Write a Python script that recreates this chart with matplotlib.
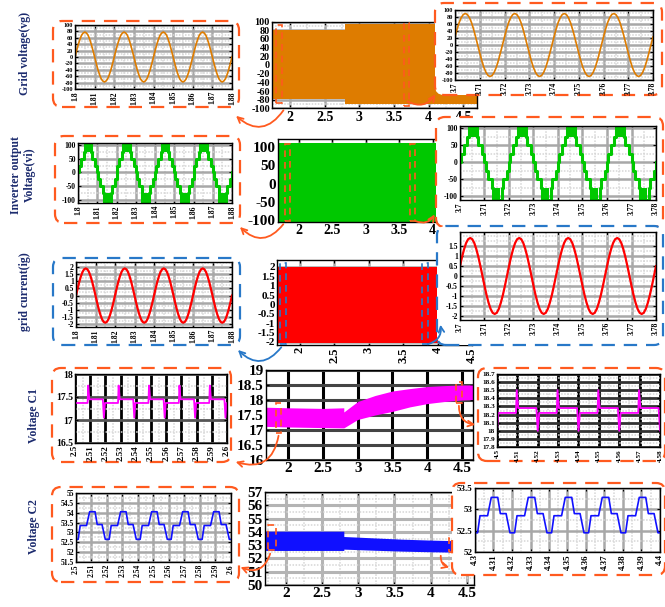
import numpy as np
import matplotlib.pyplot as plt
from matplotlib.patches import FancyBboxPatch, FancyArrowPatch, Rectangle
from matplotlib.transforms import IdentityTransform
from matplotlib.ticker import AutoMinorLocator

W, H = 665, 607
plt.rcParams['font.family'] = ['Liberation Serif', 'DejaVu Serif']
plt.rcParams['font.weight'] = 'bold'

PERIOD = 0.02

# ---------------- data ----------------
# one 50 Hz period, one sample every 15 degrees
vg_left_cycle = [0, 20, 39, 55, 68, 75, 78, 75, 68, 55, 39, 20,
                 0, -20, -39, -55, -68, -75, -78, -75, -68, -55, -39, -20]
vg_right_cycle = [23, 45, 64, 78, 87, 90, 87, 78, 64, 45, 23, 0,
                  -23, -45, -64, -78, -87, -90, -87, -78, -64, -45, -23, 0]
ig_left_cycle = [0, 0.49, 0.95, 1.34, 1.65, 1.84, 1.9, 1.84, 1.65, 1.34, 0.95, 0.49,
                 0, -0.49, -0.95, -1.34, -1.65, -1.84, -1.9, -1.84, -1.65, -1.34, -0.95, -0.49]
ig_right_cycle = [0.49, 0.95, 1.34, 1.65, 1.84, 1.9, 1.84, 1.65, 1.34, 0.95, 0.49, 0,
                  -0.49, -0.95, -1.34, -1.65, -1.84, -1.9, -1.84, -1.65, -1.34, -0.95, -0.49, 0]

# inverter output: 40 slots of 0.5 ms per period, 110 = PWM block between 75 and 110
vi_cycle = [0, 25, 25, 50, 50, 50, 75, 110, 110, 110, 110, 110, 110, 110, 75, 50, 50, 50, 25, 25,
            0, -25, -25, -50, -50, -50, -75, -110, -110, -110, -110, -110, -110, -110, -75, -50, -50, -50, -25, -25]
vi_block_low = 75

# capacitor C1 ripple, one period (offsets in s)
c1_offsets = [0, 0.0007, 0.0093, 0.0097, 0.0104, 0.0193, 0.0200]
c1_left_levels = [17.05, 17.37, 17.37, 17.75, 17.45, 17.45, 17.05]
c1_right_levels = [18.0, 18.22, 18.22, 18.5, 18.28, 18.28, 18.0]

# capacitor C2 ripple, one period
c2_offsets = [0, 0.0014, 0.0027, 0.0068, 0.0088, 0.0123, 0.0137, 0.0168, 0.0189, 0.0200]
c2_left_levels = [52.65, 52.65, 53.35, 53.35, 54.05, 54.05, 53.4, 53.4, 52.65, 52.65]
c2_right_levels = [52.45, 52.45, 52.85, 52.85, 53.28, 53.28, 52.9, 52.9, 52.45, 52.45]

# envelopes of the full-length runs
vg_band_t = [1.70, 2.80, 2.80, 4.70]
vg_band_hi = [80, 80, 94, 94]
vg_band_lo = [-78, -78, -90, -90]
vi_band_t = [1.65, 5.10]
vi_band_hi = [110, 110]
vi_band_lo = [-112, -112]
ig_band_t = [1.65, 4.55]
ig_band_hi = [2.0, 2.0]
ig_band_lo = [-2.05, -2.05]
c1_band_t = [1.68, 2.0, 2.5, 2.8, 2.8, 3.0, 3.25, 3.5, 3.75, 4.0, 4.25, 4.5, 4.7]
c1_band_hi = [17.76, 17.74, 17.72, 17.74, 17.6, 17.95, 18.15, 18.3, 18.38, 18.45, 18.48, 18.5, 18.5]
c1_band_lo = [17.12, 17.1, 17.08, 17.07, 17.07, 17.35, 17.5, 17.62, 17.77, 17.88, 17.95, 18.0, 18.02]
c2_band_t = [1.71, 2.8, 2.8, 3.2, 3.6, 4.0, 4.6]
c2_band_hi = [54.05, 54.05, 53.65, 53.55, 53.45, 53.38, 53.3]
c2_band_lo = [52.6, 52.6, 52.7, 52.62, 52.55, 52.5, 52.45]

ORANGE = '#de7c00'
GREEN = '#00c800'
RED = '#ff0000'
MAGENTA = '#ff00ff'
BLUE = '#1010ff'
BOX_OR = '#ff5a1f'
BOX_BL = '#2878c8'
NAVY = '#1c2b6e'


def sampled(start, cycle, n):
    dt = PERIOD / len(cycle)
    t = start + np.arange(n * len(cycle) + 1) * dt
    v = np.append(np.tile(cycle, n), cycle[0])
    return t, v


def profile(start, offsets, levels, n):
    t = np.concatenate([start + k * PERIOD + np.array(offsets) for k in range(n)])
    v = np.tile(levels, n)
    return t, v


fig = plt.figure(figsize=(W / 100, H / 100), dpi=100)


def px_axes(l, t, r, b, z=0):
    ax = fig.add_axes([l / W, 1 - b / H, (r - l) / W, (b - t) / H])
    ax.set_zorder(z)
    return ax


def style(ax, xlim, ylim, xticks, yticks, fs, xfs=None, rot=0, gcol='#a8a8a8', glw=1.8,
          ycol=None, minor=True):
    ax.set_xlim(xlim)
    ax.set_ylim(ylim)
    ax.set_xticks(xticks)
    ax.set_yticks(yticks)
    ax.set_xticklabels([f'{v:g}' for v in xticks], rotation=rot, fontsize=xfs or fs)
    ax.set_yticklabels([f'{v:g}' for v in yticks], fontsize=fs)
    ax.tick_params(direction='in', length=2, width=0.8, pad=1.5, top=True, right=True)
    if minor:
        ax.xaxis.set_minor_locator(AutoMinorLocator(2))
        ax.yaxis.set_minor_locator(AutoMinorLocator(2))
        ax.tick_params(which='minor', length=0)
        ax.grid(True, which='minor', color='#d6d6d6', lw=1.1, ls=(0, (1, 1)))
    ax.grid(True, which='major', axis='x', color=gcol, lw=glw)
    ax.grid(True, which='major', axis='y', color=ycol or gcol, lw=glw)
    ax.set_axisbelow(True)
    for s in ax.spines.values():
        s.set_linewidth(1.0)


def box(l, t, r, b, color=BOX_OR, face='none', z=1):
    p = FancyBboxPatch((l, H - b), r - l, b - t, boxstyle='round,pad=0,rounding_size=9',
                       transform=IdentityTransform(), ec=color, fc=face, lw=1.6,
                       ls=(0, (6, 4)), zorder=z)
    fig.add_artist(p)


def arrow(a, b, rad, color=BOX_OR):
    p = FancyArrowPatch((a[0], H - a[1]), (b[0], H - b[1]), connectionstyle=f'arc3,rad={rad}',
                        arrowstyle='->', mutation_scale=10, color=color, lw=1.3,
                        transform=IdentityTransform(), zorder=3)
    fig.add_artist(p)


def zoom_mark(ax, x0, y0, w, h, color=BOX_OR):
    ax.add_patch(Rectangle((x0, y0), w, h, fill=False, ec=color, lw=1.2, ls=(0, (4, 3)), zorder=3))


small_fs = 5.5
t_left = [1.8, 1.81, 1.82, 1.83, 1.84, 1.85, 1.86, 1.87, 1.88]
t_right = [3.7, 3.71, 3.72, 3.73, 3.74, 3.75, 3.76, 3.77, 3.78]
mid_x = [2, 2.5, 3, 3.5, 4, 4.5]
vg_ticks = [-100, -80, -60, -40, -20, 0, 20, 40, 60, 80, 100]

# ---------------- row 1 : grid voltage ----------------
ax = px_axes(272, 21.5, 477, 108.5)
ax.fill_between(vg_band_t, vg_band_lo, vg_band_hi, color=ORANGE, lw=0)
style(ax, (1.74, 4.7), (-100, 100), mid_x, vg_ticks, 7.3, xfs=10)
zoom_mark(ax, 1.80, -88, 0.08, 180)
zoom_mark(ax, 3.64, -95, 0.08, 192)

box(53, 21, 239, 107)
ax = px_axes(75, 25, 232, 89, z=2)
t, v = sampled(1.8, vg_left_cycle, 4)
ax.plot(t, v, color=ORANGE, lw=1.2)
style(ax, (1.8, 1.88), (-100, 100), t_left, vg_ticks, 4.5, xfs=small_fs, rot=90)

box(435, 3, 662, 95, face='white')
ax = px_axes(455, 10, 653, 80, z=2)
t, v = sampled(3.7, vg_right_cycle, 4)
ax.plot(t, v, color=ORANGE, lw=1.2)
style(ax, (3.7, 3.78), (-100, 100), t_right, vg_ticks, 4.5, xfs=small_fs, rot=90)

arrow((285, 108), (234, 114), -0.6)
arrow((405, 100), (437, 92), 0.5)

# ---------------- row 2 : inverter output ----------------
ax = px_axes(278, 139, 505, 222)
ax.fill_between(vi_band_t, vi_band_lo, vi_band_hi, color=GREEN, lw=0)
style(ax, (1.69, 5.08), (-105, 122), mid_x, [-100, -50, 0, 50, 100], 11, xfs=10, minor=False)
zoom_mark(ax, 1.79, -103, 0.08, 210)
zoom_mark(ax, 3.66, -103, 0.08, 210)

box(55, 136, 240, 223)
ax = px_axes(78, 143, 232, 203, z=2)
t, v = sampled(1.8, vi_cycle, 4)
vv = np.array(v)
ax.step(t, v, where='post', color=GREEN, lw=2.2)
ax.fill_between(t, vi_block_low, vv, where=vv >= 110, step='post', color=GREEN, lw=0)
ax.fill_between(t, -vi_block_low, vv, where=vv <= -110, step='post', color=GREEN, lw=0)
style(ax, (1.8, 1.88), (-111, 107), t_left, [-100, -50, 0, 50, 100], small_fs, rot=90)

box(436, 117, 663, 227, face='white')
ax = px_axes(460, 126, 656, 200, z=2)
t, v = sampled(3.7, vi_cycle, 4)
vv = np.array(v)
ax.step(t, v, where='post', color=GREEN, lw=2.2)
ax.fill_between(t, vi_block_low, vv, where=vv >= 110, step='post', color=GREEN, lw=0)
ax.fill_between(t, -vi_block_low, vv, where=vv <= -110, step='post', color=GREEN, lw=0)
style(ax, (3.7, 3.78), (-111, 107), t_right, [-100, -50, 0, 50, 100], small_fs, rot=90)

arrow((285, 222), (238, 225), -0.6)
arrow((413, 220), (436, 212), 0.5)

# ---------------- row 3 : grid current ----------------
ax = px_axes(277, 260, 472, 345)
ax.fill_between(ig_band_t, ig_band_lo, ig_band_hi, color=RED, lw=0)
style(ax, (1.67, 4.5), (-2.16, 2.37), mid_x, [-2, -1.5, -1, -0.5, 0, 0.5, 1, 1.5, 2], 8,
      xfs=9, rot=90, minor=False)
zoom_mark(ax, 1.72, -2.1, 0.08, 4.3, BOX_BL)
zoom_mark(ax, 3.78, -2.1, 0.08, 4.3, BOX_BL)

box(53, 258, 240, 345, color=BOX_BL)
ax = px_axes(76, 262, 232, 327, z=2)
t, v = sampled(1.8, ig_left_cycle, 4)
ax.plot(t, v, color=RED, lw=1.6)
style(ax, (1.8, 1.88), (-2.2, 2.35), t_left, [-2, -1.5, -1, -0.5, 0, 0.5, 1, 1.5, 2],
      small_fs, rot=90)

box(437, 226, 663, 345, color=BOX_BL, face='white')
ax = px_axes(460, 232, 656, 320, z=2)
t, v = sampled(3.7, ig_right_cycle, 4)
ax.plot(t, v, color=RED, lw=1.6)
style(ax, (3.7, 3.78), (-2.2, 2.2), t_right, [-2, -1.5, -1, -0.5, 0, 0.5, 1, 1.5],
      small_fs, rot=90)

arrow((283, 345), (236, 348), -0.6, BOX_BL)
arrow((425, 345), (440, 322), 0.5, BOX_BL)

# ---------------- row 4 : voltage C1 ----------------
ax = px_axes(266, 370, 473, 460)
ax.fill_between(c1_band_t, c1_band_lo, c1_band_hi, color=MAGENTA, lw=0)
style(ax, (1.68, 4.66), (16, 19), mid_x, [16, 16.5, 17, 17.5, 18, 18.5, 19], 11,
      gcol='black', glw=2.2, ycol='#444444', minor=False)
zoom_mark(ax, 1.83, 16.9, 0.06, 1.0)
zoom_mark(ax, 4.42, 17.9, 0.08, 0.7)

box(52, 368, 231, 462)
ax = px_axes(75, 374, 227, 443, z=2)
t, v = profile(2.499, c1_offsets, c1_left_levels, 6)
ax.plot(t, v, color=MAGENTA, lw=1.3)
style(ax, (2.5, 2.6), (16.5, 18), [2.5, 2.51, 2.52, 2.53, 2.54, 2.55, 2.56, 2.57, 2.58, 2.59, 2.6],
      [16.5, 17, 17.5, 18], 7, xfs=6.5, rot=90, gcol='black', glw=2.0, ycol='#555555')

box(478, 368, 665, 461, face='white')
ax = px_axes(497, 374, 660, 447, z=2)
t, v = profile(4.5, c1_offsets, c1_right_levels, 5)
ax.plot(t, v, color=MAGENTA, lw=1.3)
style(ax, (4.5, 4.58), (17.8, 18.7), [4.5, 4.51, 4.52, 4.53, 4.54, 4.55, 4.56, 4.57, 4.58],
      [17.8, 17.9, 18, 18.1, 18.2, 18.3, 18.4, 18.5, 18.6, 18.7], 5.2, rot=90,
      gcol='black', glw=2.0, ycol='#333333')

arrow((279, 433), (233, 461), -0.6)
arrow((459, 403), (478, 425), 0.5)

# ---------------- row 5 : voltage C2 ----------------
ax = px_axes(265, 492, 474, 585)
ax.fill_between(c2_band_t, c2_band_lo, c2_band_hi, color=BLUE, lw=0)
style(ax, (1.71, 4.6), (50, 57), mid_x, list(range(50, 58)), 11, gcol='#b4b4b4', glw=2.2)
zoom_mark(ax, 1.75, 52.6, 0.11, 1.9)
zoom_mark(ax, 4.26, 52.5, 0.07, 1.0)

box(52, 487, 239, 582)
ax = px_axes(76, 493, 231, 562, z=2)
t, v = profile(2.5, c2_offsets, c2_left_levels, 5)
ax.plot(t, v, color=BLUE, lw=1.2)
style(ax, (2.5, 2.6), (51.5, 55), [2.5, 2.51, 2.52, 2.53, 2.54, 2.55, 2.56, 2.57, 2.58, 2.59, 2.6],
      [51.5, 52, 52.5, 53, 53.5, 54, 54.5, 55], small_fs, rot=90)

box(452, 483, 665, 575, face='white')
ax = px_axes(475, 488, 660, 552, z=2)
t, v = profile(4.3, c2_offsets, c2_right_levels, 5)
ax.plot(t, v, color=BLUE, lw=1.2)
style(ax, (4.3, 4.4), (52, 53.5), [4.3, 4.31, 4.32, 4.33, 4.34, 4.35, 4.36, 4.37, 4.38, 4.39, 4.4],
      [52, 52.5, 53, 53.5], 6.5, rot=90)

arrow((271, 551), (238, 566), -0.6)
arrow((441, 553), (452, 568), 0.5)

# ---------------- row titles ----------------
lab = dict(rotation=90, ha='center', va='center', color=NAVY, fontsize=8.5, weight='bold')
fig.text(25 / W, 1 - 53 / H, 'Grid voltage(vg)', **lab)
fig.text(16 / W, 1 - 175 / H, 'Inverter output', **lab)
fig.text(30 / W, 1 - 175 / H, 'Voltage(vi)', **lab)
fig.text(25 / W, 1 - 292 / H, 'grid current(ig)', **lab)
fig.text(34 / W, 1 - 416 / H, 'Voltage C1', **lab)
fig.text(34 / W, 1 - 527 / H, 'Voltage C2', **lab)

fig.savefig('out.png', dpi=100)
